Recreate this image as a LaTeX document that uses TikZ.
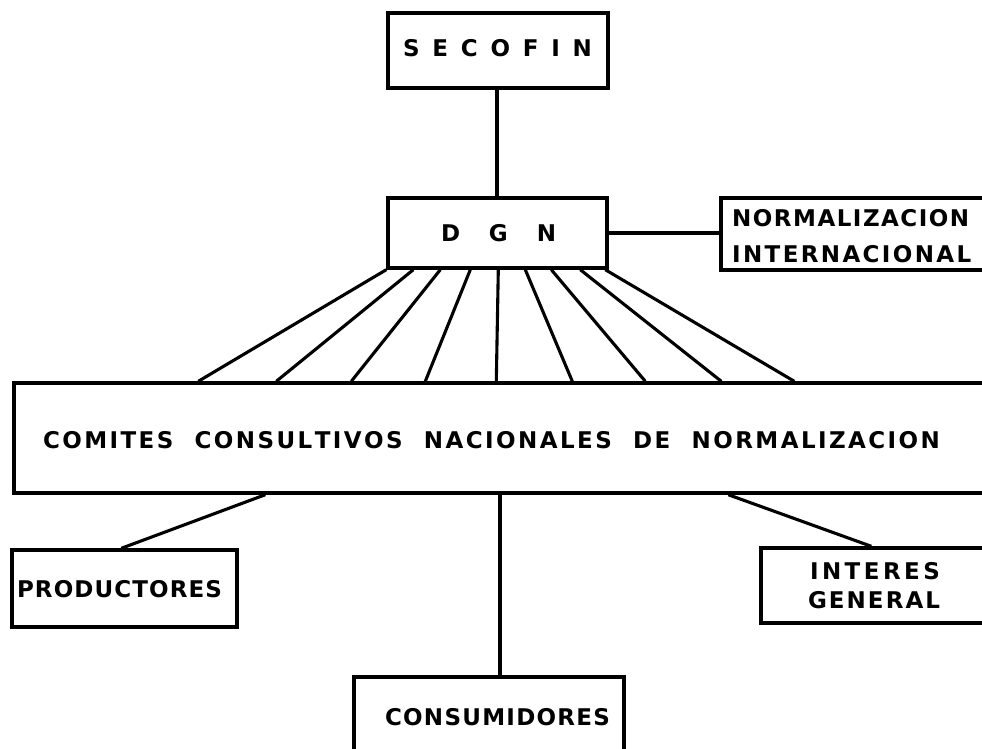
\documentclass[tikz,border=0pt]{standalone}
\usepackage{fontspec}
\setmainfont{DejaVu Sans}
\usetikzlibrary{calc}
% spread the letters of a word with equal stretchable gaps
\def\sprd#1{\sprdA#1\relax}
\def\sprdA#1#2{#1\ifx\relax#2\else\hskip0pt plus1fil\relax\expandafter\sprdA\expandafter#2\fi}
\def\wgap{\hskip 14pt plus 3fil\relax}
\begin{document}
\begin{tikzpicture}[x=1pt,y=-1pt,
  box/.style={draw=black,line width=3.4pt,rectangle,inner sep=0pt},
  conn/.style={draw=black,line width=3.1pt},
  lbl/.style={inner sep=0pt,font=\fontsize{23}{28}\selectfont\bfseries}
]
\useasboundingbox (0,0) rectangle (982,748);
\fill[white] (0,0) rectangle (982,748);
\clip (0,0) rectangle (982,748);
% boxes
\node[box,minimum width=220pt,minimum height=75pt] (sec) at (498,50.5) {};
\node[box,minimum width=219pt,minimum height=70pt] (dgn) at (497.5,233) {};
\node[box,minimum width=279pt,minimum height=72pt] (norm) at (860.5,234) {};
\node[box,minimum width=990pt,minimum height=110pt] (com) at (509,438) {};
\node[box,minimum width=225pt,minimum height=77pt] (prod) at (124.5,588.5) {};
\node[box,minimum width=239pt,minimum height=75pt] (int) at (880.5,585.5) {};
\node[box,minimum width=270pt,minimum height=93pt] (cons) at (489,723.5) {};
% texts
\node[lbl] (tsec) at (497.5,48) {\makebox[189pt][s]{\sprd{SECOFIN}}};
\node[lbl] (tdgn) at (498.5,233) {\makebox[115pt][s]{\sprd{DGN}}};
\node[lbl,anchor=west] (tnorm1) at (732,218) {\makebox[237pt][s]{\sprd{NORMALIZACION}}};
\node[lbl,anchor=west] (tnorm2) at (732,254) {\makebox[239pt][s]{\sprd{INTERNACIONAL}}};
\node[lbl] (tcom) at (491.5,440) {\makebox[897pt][s]{\sprd{COMITES}\wgap\sprd{CONSULTIVOS}\wgap\sprd{NACIONALES}\wgap\sprd{DE}\wgap\sprd{NORMALIZACION}}};
\node[lbl] (tprod) at (119.5,589) {\makebox[205pt][s]{\sprd{PRODUCTORES}}};
\node[lbl] (tint1) at (875,571) {\makebox[130pt][s]{\sprd{INTERES}}};
\node[lbl] (tint2) at (874,600) {\makebox[132pt][s]{\sprd{GENERAL}}};
\node[lbl] (tcons) at (497.5,717) {\makebox[225pt][s]{\sprd{CONSUMIDORES}}};
% connectors
\draw[conn] ([xshift=-1pt]sec.south) coordinate (s1) -- (s1 |- dgn.north);
\draw[conn] (dgn.east) -- (norm.west |- dgn.east);
\foreach \a/\b in {0/186,27/264,54/339,84/413,112/484,139/560,165/633,194/709,219/782}{
  \draw[conn] ([xshift=\a pt]dgn.south west) -- ([xshift=\b pt]com.north west);
}
\draw[conn] ([xshift=253pt]com.south west) -- ([xshift=111pt]prod.north west);
\draw[conn] ([xshift=716pt]com.south west) -- ([xshift=112pt]int.north west);
\draw[conn] ([xshift=11pt]cons.north) coordinate (c1) -- (c1 |- com.south);
\end{tikzpicture}
\end{document}
